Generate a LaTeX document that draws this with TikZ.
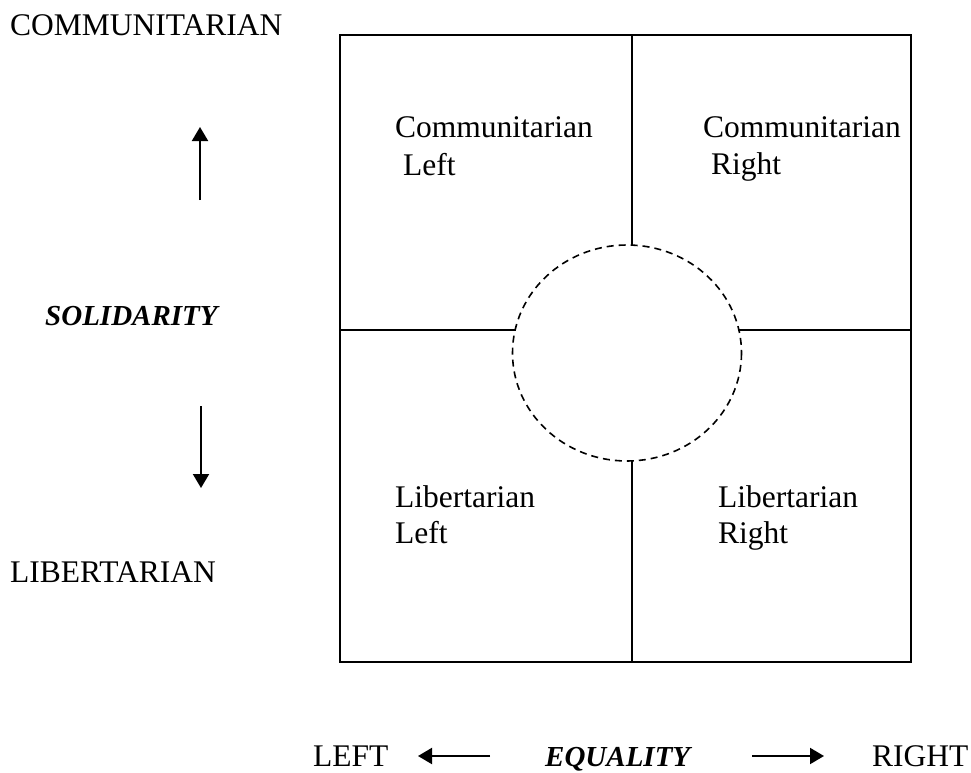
\documentclass[tikz,border=0pt]{standalone}
\usepackage{fontspec}
\setmainfont{Liberation Serif}
\usetikzlibrary{arrows.meta}
\begin{document}
\begin{tikzpicture}[x=1pt,y=-1pt,
  lbl/.style={font=\fontsize{31.5}{37}\selectfont, inner sep=0pt, anchor=base west},
  axislbl/.style={font=\fontsize{29}{34}\selectfont\bfseries\itshape, inner sep=0pt, anchor=base west},
  frame/.style={line width=2pt},
  dir/.style={line width=2pt, -{Triangle[length=14pt,width=16pt]}},
  zone/.style={line width=1.6pt, dash pattern=on 7pt off 5pt}]
\useasboundingbox (0,0) rectangle (971,773);

% outer frame and the central dashed zone
\draw[frame] (340,35) rectangle (911,662);
\draw[zone] (627,353) ellipse [x radius=114.5, y radius=108];

% dividers, stopping at the dashed zone
\coordinate (vt) at (632,35);
\coordinate (vtc) at (632,245);
\coordinate (vbc) at (632,461);
\coordinate (vb) at (632,662);
\coordinate (hl) at (340,330);
\coordinate (hlc) at (515,330);
\coordinate (hrc) at (739,330);
\coordinate (hr) at (911,330);
\draw[frame] (vt) -- (vtc);
\draw[frame] (vbc) -- (vb);
\draw[frame] (hl) -- (hlc);
\draw[frame] (hrc) -- (hr);

% quadrant labels
\node[lbl] (cl1) at (395,138) {Communitarian};
\node[lbl] (cl2) at (403,175) {Left};
\node[lbl] (cr1) at (703,138) {Communitarian};
\node[lbl] (cr2) at (711,174) {Right};
\node[lbl] (ll1) at (395,507) {Libertarian};
\node[lbl] (ll2) at (395,543) {Left};
\node[lbl] (lr1) at (718,507) {Libertarian};
\node[lbl] (lr2) at (718,543) {Right};

% vertical axis
\node[lbl] (comm) at (10,36) {COMMUNITARIAN};
\node[axislbl] (sol) at (45,325) {SOLIDARITY};
\node[lbl] (lib) at (10,582) {LIBERTARIAN};
\coordinate (upfrom) at (200,200);
\coordinate (upto) at (200,127);
\coordinate (dnfrom) at (201,406);
\coordinate (dnto) at (201,488);
\draw[dir] (upfrom) -- (upto);
\draw[dir] (dnfrom) -- (dnto);

% horizontal axis
\node[lbl] (left) at (313,766) {LEFT};
\node[axislbl] (eq) at (545,766) {EQUALITY};
\node[lbl] (right) at (872,766) {RIGHT};
\coordinate (lfrom) at (490,756);
\coordinate (lto) at (418,756);
\coordinate (rfrom) at (752,756);
\coordinate (rto) at (824,756);
\draw[dir] (lfrom) -- (lto);
\draw[dir] (rfrom) -- (rto);
\end{tikzpicture}
\end{document}
